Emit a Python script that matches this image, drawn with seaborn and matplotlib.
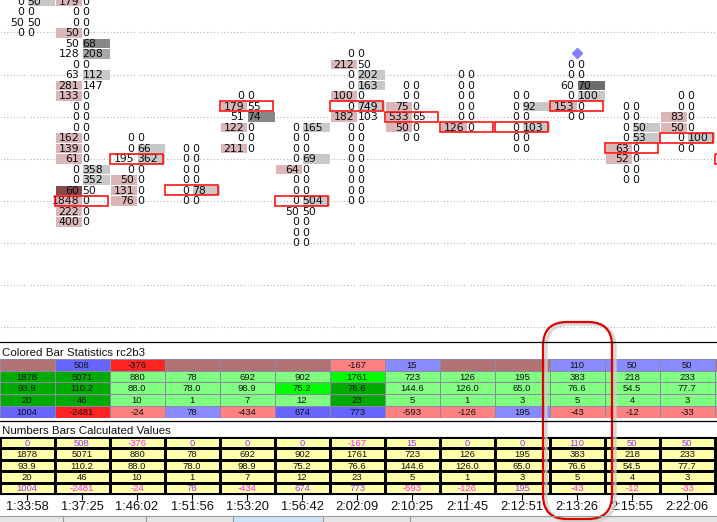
import numpy as np
import matplotlib
matplotlib.use("Agg")
import matplotlib.pyplot as plt
import seaborn as sns
from matplotlib.colors import ListedColormap
from matplotlib.patches import Rectangle, FancyBboxPatch
from matplotlib.lines import Line2D

# ---------------- data ----------------
times = ["1:33:58", "1:37:25", "1:46:02", "1:51:56", "1:53:20", "1:56:42", "2:02:09",
         "2:10:25", "2:11:45", "2:12:51", "2:13:26", "2:15:55", "2:22:06"]

# footprint: first visible price row (0 = top) and bid / ask volume per row
fp_start = [0, 0, 13, 14, 9, 12, 5, 8, 7, 9, 6, 10, 9, 15]
fp_bid = [
    [0, 0, 50, 0],
    [179, 0, 0, 50, 50, 128, 0, 63, 281, 133, 0, 0, 0, 162, 139, 61, 0, 0, 60, 1848, 222, 400],
    [0, 0, 195, 0, 50, 131, 76],
    [0, 0, 0, 0, 0, 0],
    [0, 179, 51, 122, 0, 211],
    [0, 0, 0, 0, 64, 0, 0, 0, 50, 0, 0, 0],
    [0, 212, 0, 0, 100, 0, 182, 0, 0, 0, 0, 0, 0, 0, 0],
    [0, 0, 75, 533, 50, 0],
    [0, 0, 0, 0, 0, 126],
    [0, 0, 0, 0, 0, 0],
    [0, 0, 60, 0, 153, 0],
    [0, 0, 0, 0, 63, 52, 0, 0],
    [0, 0, 83, 50, 0, 0],
    [0],
]
fp_ask = [
    [50, 0, 50, 0],
    [0, 0, 0, 0, 68, 208, 0, 112, 147, 0, 0, 0, 0, 0, 0, 0, 358, 352, 50, 0, 0, 0],
    [0, 66, 362, 0, 0, 0, 0],
    [0, 0, 0, 0, 78, 0],
    [0, 55, 74, 0, 0, 0],
    [165, 0, 0, 69, 0, 0, 0, 504, 50, 0, 0, 0],
    [0, 50, 202, 163, 0, 749, 103, 0, 0, 0, 0, 0, 0, 0, 0],
    [0, 0, 0, 65, 0, 0],
    [0, 0, 0, 0, 0, 0],
    [0, 92, 0, 103, 0, 0],
    [0, 0, 70, 100, 0, 0],
    [0, 0, 50, 53, 0, 0, 0, 0],
    [0, 0, 0, 0, 100, 0],
    [57],
]
# the first bar's point of control lies above the visible price range
fp_poc_visible = [False] + [True] * 13
marker_col = 10
marker_row = 5

# statistics rows
stat_delta = [0, 508, -376, 0, 0, 0, -167, 15, 0, 0, 110, 50, 50]
stat_volume = [1878, 5071, 880, 78, 692, 902, 1761, 723, 126, 195, 383, 218, 233]
stat_avg = [93.9, 110.2, 88.0, 78.0, 98.9, 75.2, 76.6, 144.6, 126.0, 65.0, 76.6, 54.5, 77.7]
stat_count = [20, 46, 10, 1, 7, 12, 23, 5, 1, 3, 5, 4, 3]
stat_bar_delta = [1004, -2481, -24, 78, -434, 674, 773, -593, -126, 195, -43, -12, -33]

# colour codes of the "Colored Bar Statistics" cells (style, 14 columns incl. partial)
t1_style = [
    ["BR", "BL", "RD", "BR", "BR", "BR", "LR", "LB", "BR", "BR", "LB", "LB", "LB", "BR"],
    ["DG", "DG", "LG", "LG", "LG", "LG", "G", "LG", "LG", "LG", "LG", "LG", "LG", "LG"],
    ["DG", "DG", "LG", "LG", "LG", "G", "DG", "LG", "LG", "LG", "LG", "LG", "LG", "LG"],
    ["DG", "DG", "LG", "LG", "LG", "LG", "DG", "LG", "LG", "LG", "LG", "LG", "LG", "LG"],
    ["BL", "RD", "LR", "LB", "LR", "BL", "BL", "LR", "LR", "LB", "LR", "LR", "LR", "LR"],
]
palette = {"BR": "#b07272", "BL": "#6666ff", "LB": "#8a8aff", "RD": "#ff2424",
           "LR": "#ff8080", "DG": "#00ab00", "G": "#00ff00", "LG": "#80ff80"}

# ---------------- figure ----------------
W, H = 717, 522
sns.set_style("white")
plt.rcParams["font.family"] = ["DejaVu Sans"]
fig = plt.figure(figsize=(W / 100, H / 100), dpi=100)
fig.patch.set_facecolor("white")

def fy(y):
    return 1 - y / H

# ---- footprint ----
ax_fp = fig.add_axes([0, fy(341), 1, 341 / H])
ncol = len(fp_start)
nrows = 33
codes = np.zeros((nrows, 2 * ncol))

def level(r):
    return 0 if r < 0.6 else (1 if r < 0.65 else (2 if r < 0.8 else 3))

for c in range(ncol):
    for i, (b, a) in enumerate(zip(fp_bid[c], fp_ask[c])):
        k = fp_start[c] + i
        if b > a:
            codes[k, 2 * c] = 1 + level(a / b)
        elif a > b:
            codes[k, 2 * c + 1] = 5 + level(b / a)

fp_cmap = ListedColormap(["white", "#dbb6b6", "#c09292", "#a26262", "#874848",
                          "#c8c8c8", "#a8a8a8", "#878787", "#6c6c6c"])
sns.heatmap(codes, mask=(codes == 0), cmap=fp_cmap, vmin=-0.5, vmax=8.5, cbar=False,
            linewidths=0.7, linecolor="white", ax=ax_fp)
for g in range(3, nrows, 4):
    ax_fp.axhline(g + 0.5, color="#b0b0b0", lw=0.8, ls=(0, (1, 2)), zorder=0)

for c in range(ncol):
    bids, asks = fp_bid[c], fp_ask[c]
    tot = [b + a for b, a in zip(bids, asks)]
    poc = int(np.argmax(tot))
    for i, (b, a) in enumerate(zip(bids, asks)):
        k = fp_start[c] + i
        ax_fp.text(2 * c + 0.89, k + 0.55, str(b), ha="right", va="center",
                   fontsize=7.8, color="#0a0a14", clip_on=True)
        ax_fp.text(2 * c + 1.02, k + 0.55, str(a), ha="left", va="center",
                   fontsize=7.8, color="#0a0a14", clip_on=True)
    if fp_poc_visible[c]:
        ax_fp.add_patch(Rectangle((2 * c + 0.02, fp_start[c] + poc + 0.05), 1.93, 0.93,
                                  fill=False, ec="#ff0000", lw=1.1, zorder=5))
ax_fp.plot([2 * marker_col + 1], [marker_row + 0.5], marker="D", ms=5.5,
           color="#8080ff", ls="none", zorder=6)
ax_fp.set_xlim(0.5 / 27.5, (W + 0.5) / 27.5)
ax_fp.set_ylim(32.88, 0.405)
ax_fp.set_xticks([])
ax_fp.set_yticks([])

# ---- table 1: Colored Bar Statistics ----
order = list(palette.keys())
t1_idx = np.array([[order.index(s) for s in row] for row in t1_style])
ax_t1 = fig.add_axes([0, fy(417.5), 1, 58.5 / H])
sns.heatmap(t1_idx, cmap=ListedColormap([palette[k] for k in order]), vmin=-0.5,
            vmax=len(order) - 0.5, cbar=False, linewidths=0.7, linecolor="#8a8aa2", ax=ax_t1)
rows = [stat_delta, stat_volume, stat_avg, stat_count, stat_bar_delta]
for r, vals in enumerate(rows):
    for c, v in enumerate(vals):
        if r == 2:
            s = f"{v:.1f}"
        elif r == 0 and v == 0:
            s = ""
        else:
            s = str(v)
        ax_t1.text(c + 0.5, r + 0.55, s, ha="center", va="center", fontsize=6.8,
                   family="Liberation Sans", color="#111111")
ax_t1.set_xlim(0.5 / 55, (W + 0.5) / 55)
ax_t1.set_xticks([])
ax_t1.set_yticks([])

# ---- table 2: Numbers Bars Calculated Values ----
ax_t2 = fig.add_axes([0, fy(494), 1, 57 / H])
sns.heatmap(np.zeros((5, ncol)), cmap=ListedColormap(["#ffffaa"]), vmin=-0.5, vmax=0.5,
            cbar=False, linewidths=0.75, linecolor="black", ax=ax_t2)
for r, vals in enumerate(rows):
    for c, v in enumerate(vals):
        s = f"{v:.1f}" if r == 2 else str(v)
        if r in (0, 4):
            col = "#ff22ff" if v < 0 else "#9933ff"
        else:
            col = "#111111"
        ax_t2.text(c + 0.5, r + 0.55, s, ha="center", va="center", fontsize=6.8,
                   family="Liberation Sans", color=col)
ax_t2.set_xlim(0.5 / 55, (W + 0.5) / 55)
ax_t2.set_yticks([])
ax_t2.set_xticks([c + 0.5 for c in range(len(times))])
ax_t2.set_xticklabels(times, fontsize=9.3, family="Liberation Sans", color="#111111")
ax_t2.tick_params(axis="x", bottom=True, length=4, width=0.8, pad=0.8, color="black")
for side in ("top", "bottom"):
    ax_t2.spines[side].set_visible(True)
    ax_t2.spines[side].set_color("black")
    ax_t2.spines[side].set_linewidth(0.8)

# ---- panel titles and separators ----
fig.add_artist(Line2D([0, 1], [fy(342), fy(342)], color="black", lw=0.9))
fig.add_artist(Line2D([0, 1], [fy(421), fy(421)], color="black", lw=0.9))
fig.text(2 / W, fy(355.7), "Colored Bar Statistics rc2b3", va="baseline", ha="left",
         fontsize=8.25, family="Liberation Sans", color="#111111")
fig.text(2 / W, fy(434.5), "Numbers Bars Calculated Values", va="baseline", ha="left",
         fontsize=8.25, family="Liberation Sans", color="#111111")

# ---- bottom tab strip ----
fig.add_artist(Rectangle((0, 0), 1, 6 / H, transform=fig.transFigure, fc="#e6e6e6",
                         ec="none"))
fig.add_artist(Rectangle((233 / W, 0), 90 / W, 6 / H, transform=fig.transFigure,
                         fc="#cfe3f5", ec="none"))
fig.add_artist(Line2D([0, 1], [fy(516), fy(516)], color="#9a9a9a", lw=0.8))
for xs in (63, 146, 233, 323, 410):
    fig.add_artist(Line2D([xs / W, xs / W], [0, 6 / H], color="#9a9a9a", lw=0.8))

# ---- hand-drawn highlight around one column ----
shadow = FancyBboxPatch((5.46, 0.01), 0.69, 1.97, boxstyle="round,pad=0,rounding_size=0.24",
                        transform=fig.dpi_scale_trans, fill=False, ec="#cfcfcf", lw=2.4,
                        alpha=0.8)
fig.add_artist(shadow)
hl = FancyBboxPatch((5.43, 0.03), 0.69, 1.97, boxstyle="round,pad=0,rounding_size=0.24",
                    transform=fig.dpi_scale_trans, fill=False, ec="#e00000", lw=1.6)
fig.add_artist(hl)

fig.savefig("out.png", dpi=100)
